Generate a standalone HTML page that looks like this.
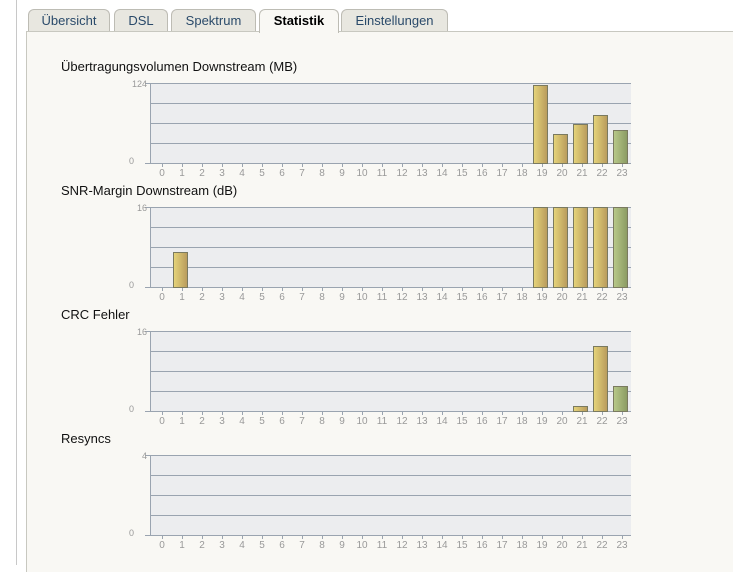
<!DOCTYPE html>
<html><head><meta charset="utf-8"><style>
body{margin:0;width:733px;height:565px;background:#fff;position:relative;overflow:hidden;font-family:"Liberation Sans",Arial,sans-serif}
.vl{position:absolute;left:16px;top:0;width:1px;height:565px;background:#c8c8c8}
.panel{position:absolute;left:26px;top:31px;width:720px;height:540px;background:#f9f8f4;border-left:1px solid #c8c8c0;border-top:1px solid #c8c8c0}
.tab{position:absolute;top:9px;height:21px;background:#e8e7e0;border:1px solid #bdbcb4;border-bottom:none;border-radius:6px 6px 0 0;font-size:13px;color:#2a4a6a;text-align:center;line-height:21px}
.tab.act{background:#f9f8f4;height:23px;color:#000;font-weight:bold;z-index:2}
.t{position:absolute;left:61px;font-size:13px;color:#111}
</style></head><body>
<div class="vl"></div>
<div class="panel"></div>
<div class="tab" style="left:28px;width:80px">Übersicht</div>
<div class="tab" style="left:114px;width:52px">DSL</div>
<div class="tab" style="left:171px;width:83px">Spektrum</div>
<div class="tab act" style="left:259px;width:78px">Statistik</div>
<div class="tab" style="left:341px;width:105px">Einstellungen</div>
<div class="t" style="top:59px">Übertragungsvolumen Downstream (MB)</div>
<div class="t" style="top:183px">SNR-Margin Downstream (dB)</div>
<div class="t" style="top:307px">CRC Fehler</div>
<div class="t" style="top:431px">Resyncs</div>
<svg width="733" height="565" style="position:absolute;left:0;top:0" font-family="Liberation Sans, Arial, sans-serif">
<defs>
<linearGradient id="y" x1="0" x2="1"><stop offset="0" stop-color="#e6d57a"/><stop offset="1" stop-color="#b89a5c"/></linearGradient>
<linearGradient id="g" x1="0" x2="1"><stop offset="0" stop-color="#b8c98a"/><stop offset="1" stop-color="#8a9a62"/></linearGradient>
</defs>
<g id="charts"></g>
</svg>
<script>
var charts=[[83,"124",[[19,85],[20,134],[21,124],[22,115],[23,130]]],
[207,"16",[[1,252],[19,207],[20,207],[21,207],[22,207],[23,207]]],
[331,"16",[[21,406],[22,346],[23,386]]],
[455,"4",[]]];
var s="";
charts.forEach(function(c){var t=c[0],b=t+80;
s+='<rect x="150" y="'+t+'" width="481" height="80" fill="#ecedef"/>';
for(var k=0;k<4;k++)s+='<line x1="150" x2="631" y1="'+(t+k*20+.5)+'" y2="'+(t+k*20+.5)+'" stroke="#9aa4b0"/>';
s+='<line x1="150" x2="631" y1="'+(b+.5)+'" y2="'+(b+.5)+'" stroke="#9aa4b0"/>';
s+='<line x1="150.5" x2="150.5" y1="'+t+'" y2="'+b+'" stroke="#9aa4b0"/>';
s+='<line x1="145" x2="150" y1="'+(t+.5)+'" y2="'+(t+.5)+'" stroke="#9aa4b0"/><line x1="145" x2="150" y1="'+(b+.5)+'" y2="'+(b+.5)+'" stroke="#9aa4b0"/>';
s+='<text x="147" y="'+(t+4)+'" font-size="9" fill="#999" text-anchor="end">'+c[1]+'</text>';
s+='<text x="134" y="'+(b+1)+'" font-size="9" fill="#999" text-anchor="end">0</text>';
for(var i=0;i<24;i++){var x=162+20*i;
s+='<line x1="'+(x+.5)+'" x2="'+(x+.5)+'" y1="'+b+'" y2="'+(b+4)+'" stroke="#9aa4b0"/>';
s+='<text x="'+x+'" y="'+(b+13)+'" font-size="10" fill="#999" text-anchor="middle">'+i+'</text>';}
c[2].forEach(function(d){var x=162+20*d[0]-9;
s+='<rect x="'+(x+.5)+'" y="'+(d[1]+.5)+'" width="14" height="'+(b-d[1])+'" fill="url(#'+(d[0]==23?'g':'y')+')" stroke="#7a7a60"/>';});
});
document.getElementById("charts").innerHTML=s;
</script>
</body></html>
